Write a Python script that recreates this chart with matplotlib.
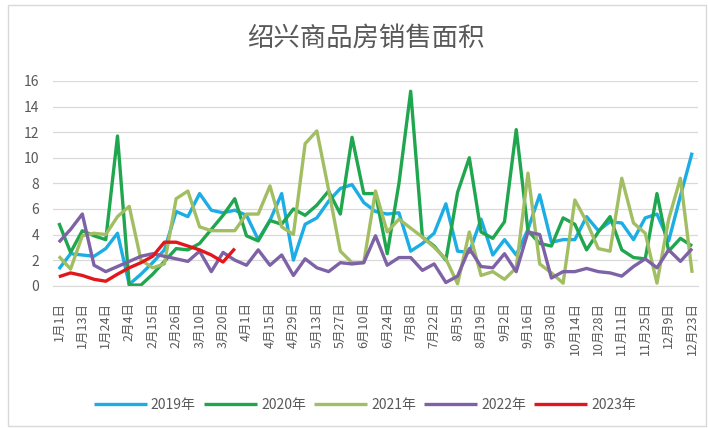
import matplotlib
matplotlib.use('Agg')
import matplotlib.pyplot as plt
import matplotlib.transforms as mtransforms
from matplotlib.patches import Rectangle

plt.rcParams['font.family'] = ['Noto Sans CJK SC', 'DejaVu Sans']

# 每隔一周显示一个日期标签
tick_labels = ['1月1日', '1月13日', '1月24日', '2月4日', '2月15日', '2月26日', '3月10日',
               '3月20日', '4月1日', '4月15日', '4月29日', '5月13日', '5月27日', '6月10日',
               '6月24日', '7月8日', '7月22日', '8月5日', '8月19日', '9月2日', '9月16日',
               '9月30日', '10月14日', '10月28日', '11月11日', '11月25日', '12月9日', '12月23日']

s2019 = [1.3, 2.5, 2.4, 2.3, 2.9, 4.1, 0.1, 0.9, 1.8, 2.8,
         5.8, 5.4, 7.2, 5.9, 5.7, 5.9, 5.5, 3.6, 5.1, 7.2,
         2.0, 4.8, 5.3, 6.6, 7.6, 7.9, 6.5, 5.8, 5.6, 5.7,
         2.7, 3.3, 4.1, 6.4, 2.7, 2.6, 5.2, 2.4, 3.6, 2.4,
         4.4, 7.1, 3.4, 3.6, 3.6, 5.4, 4.3, 5.0, 4.9, 3.6,
         5.3, 5.6, 3.5, 7.0, 10.4]
s2020 = [4.9, 2.6, 4.3, 3.9, 3.6, 11.7, 0.05, 0.05, 0.9, 1.9,
         2.9, 2.8, 3.3, 4.4, 5.5, 6.8, 3.9, 3.5, 5.1, 4.8,
         6.0, 5.5, 6.3, 7.4, 5.6, 11.6, 7.2, 7.2, 2.5, 8.0,
         15.2, 3.8, 3.1, 2.0, 7.3, 10.0, 4.2, 3.7, 5.0, 12.2,
         4.3, 3.3, 3.1, 5.3, 4.8, 2.8, 4.2, 5.4, 2.8, 2.2,
         2.1, 7.2, 2.7, 3.7, 3.1]
s2021 = [2.3, 1.3, 3.9, 4.1, 4.0, 5.4, 6.2, 2.0, 1.4, 1.7,
         6.8, 7.4, 4.6, 4.3, 4.3, 4.3, 5.6, 5.6, 7.8, 4.6,
         4.0, 11.1, 12.1, 7.5, 2.7, 1.8, 1.8, 7.4, 4.2, 5.2,
         4.5, 3.8, 3.0, 2.1, 0.15, 4.2, 0.8, 1.1, 0.5, 1.4,
         8.8, 1.7, 1.0, 0.2, 6.7, 5.0, 2.9, 2.7, 8.4, 4.9,
         4.1, 0.2, 5.2, 8.4, 1.0]
s2022 = [3.4, 4.4, 5.6, 1.6, 1.1, 1.5, 1.9, 2.3, 2.5, 2.3,
         2.1, 1.9, 2.7, 1.1, 2.6, 2.0, 1.6, 2.8, 1.6, 2.4,
         0.8, 2.1, 1.4, 1.1, 1.8, 1.7, 1.8, 3.9, 1.6, 2.2,
         2.2, 1.2, 1.7, 0.25, 0.75, 2.9, 1.5, 1.4, 2.5, 1.1,
         4.2, 4.0, 0.6, 1.1, 1.1, 1.35, 1.1, 1.0, 0.75, 1.5,
         2.1, 1.4, 2.8, 1.9, 2.9]
s2023 = [0.7, 1.0, 0.8, 0.5, 0.35, 0.9, 1.4, 1.8, 2.3, 3.4,
         3.4, 3.1, 2.8, 2.4, 1.85, 2.9]

series = [('2019年', s2019, '#1CADE4'),
          ('2020年', s2020, '#1FA64F'),
          ('2021年', s2021, '#A2BE62'),
          ('2022年', s2022, '#7E62A6'),
          ('2023年', s2023, '#E3171B')]

fig = plt.figure(figsize=(7.08, 4.28), dpi=100)
ax = fig.add_axes([53/708, 1 - 285.7/428, 645/708, 204.7/428])

for name, vals, color in series:
    ax.plot(range(len(vals)), vals, color=color, lw=2.4, label=name,
            solid_joinstyle='round', solid_capstyle='butt')

n = len(s2019)
ax.set_xlim(-0.5, n - 0.5)
ax.set_ylim(0, 16)
ax.set_yticks(range(0, 17, 2))
ax.set_xticks(range(0, n, 2))
ax.set_xticklabels(tick_labels, rotation=90, ha='center', fontsize=9, color='#595959')
shift = mtransforms.ScaledTranslation(-6/100, 0, fig.dpi_scale_trans)
for lab in ax.get_xticklabels():
    lab.set_transform(lab.get_transform() + shift)
ax.tick_params(axis='y', length=0, pad=10, labelsize=10, labelcolor='#595959')
ax.tick_params(axis='x', length=0, pad=12)
ax.grid(axis='y', color='#D9D9D9', lw=0.9)
ax.set_axisbelow(True)
for sp in ['top', 'right', 'left']:
    ax.spines[sp].set_visible(False)
ax.spines['bottom'].set_color('#D9D9D9')

fig.text(366/708, 1 - 38/428, '绍兴商品房销售面积', ha='center', va='center',
         fontsize=19, color='#595959')

fig.legend(loc='center', bbox_to_anchor=(365/708, 1 - 405/428), ncol=5, frameon=False,
           fontsize=10, labelcolor='#595959', handlelength=3.8, handletextpad=0.3,
           columnspacing=0.6)

fig.patches.append(Rectangle((8/708, 2/428), 698/708, 421/428, transform=fig.transFigure,
                             fill=False, edgecolor='#D9D9D9', lw=1))

fig.savefig('out.png', dpi=100)
